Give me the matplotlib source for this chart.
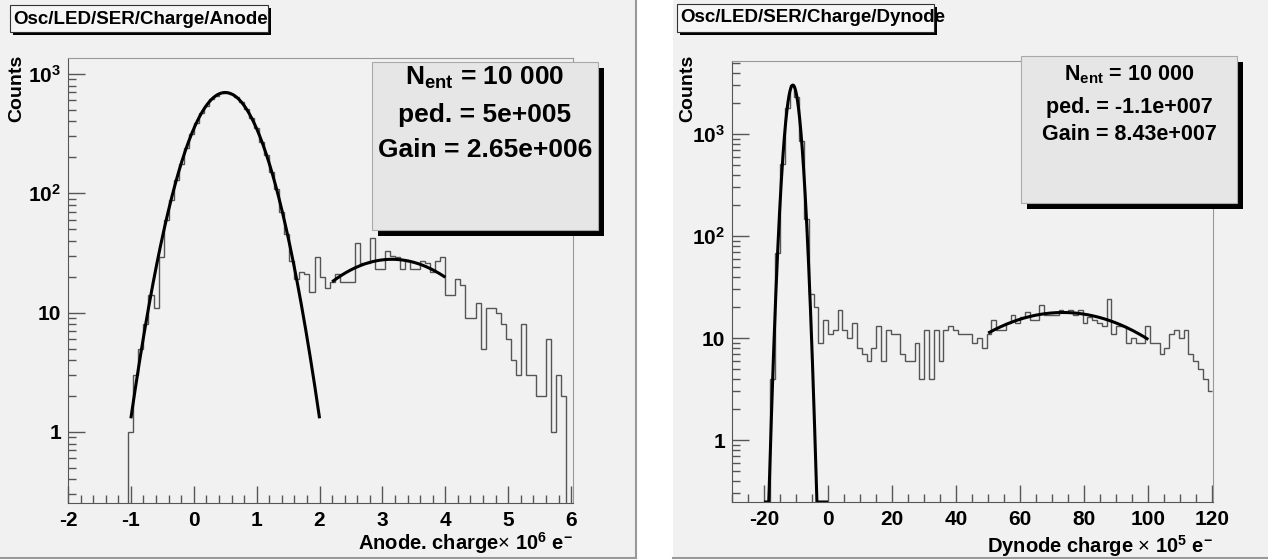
import matplotlib
matplotlib.use('Agg')
import matplotlib.pyplot as plt
import numpy as np
from matplotlib.patches import Rectangle
from matplotlib.ticker import FixedLocator, FixedFormatter, MultipleLocator

plt.rcParams['font.family'] = ['Liberation Sans', 'DejaVu Sans']
plt.rcParams['mathtext.fontset'] = 'custom'
plt.rcParams['mathtext.rm'] = 'Liberation Sans'
plt.rcParams['mathtext.bf'] = 'Liberation Sans:bold'
plt.rcParams['mathtext.it'] = 'Liberation Sans:italic'
plt.rcParams['axes.unicode_minus'] = False

W, H = 1268, 560

# ---------------- data ----------------
# Anode histogram: 100 bins from -2 to 6 (x 10^6 e-)
anode_lo, anode_hi, anode_nbins = -2.0, 6.0, 100
anode_counts = [
    0, 0, 0, 0, 0, 0, 0, 0, 0, 0, 0, 0,
    1, 3, 5, 8, 14, 11, 29, 60, 88, 130,
    176, 240, 312, 385, 470, 543, 612, 660, 695, 698,
    683, 637, 580, 505, 430, 350, 271, 210, 150, 108,
    70, 46, 27, 19, 22, 21, 15, 29, 20, 16,
    18, 21, 18, 18, 18, 38, 26, 26, 42, 23,
    23, 33, 30, 29, 23, 27, 23, 23, 27, 26,
    22, 27, 29, 14, 14, 19, 17, 9, 9, 12,
    5, 11, 11, 10, 8, 6, 4, 3, 8, 3,
    3, 2, 2, 6, 1, 3, 2, 0,
]
# fit parameters (amplitude, mean, sigma, range)
anode_ped_fit = (700, 0.5, 0.423, -1.0, 2.0)
anode_ser_fit = (28, 3.15, 1.02, 2.2, 4.0)
anode_stats = ['$\\mathbf{N_{ent}}$ = 10 000', 'ped. = 5e+005', 'Gain = 2.65e+006']

# Dynode histogram: 100 bins from -30 to 120 (x 10^5 e-)
dyn_lo, dyn_hi, dyn_nbins = -30.0, 120.0, 100
dyn_counts = [
    0, 0, 0, 0, 0, 0, 0, 0, 4, 68,
    510, 1800, 3000, 2320, 850, 146, 27, 20, 9, 15,
    11, 12, 19, 12, 10, 14, 8, 7, 6, 8,
    13, 6, 12, 11, 11, 7, 6, 6, 9, 4,
    12, 4, 12, 6, 12, 13, 12, 11, 11, 11,
    9, 10, 8, 11, 15, 12, 12, 14, 17, 14,
    16, 18, 15, 15, 21, 17, 17, 17, 19, 18,
    19, 17, 19, 14, 16, 15, 14, 13, 24, 11,
    13, 13, 9, 10, 9, 9, 13, 9, 9, 7,
    8, 11, 12, 10, 12, 7, 6, 5, 4, 3,
]
dyn_ped_fit = (3020, -11.0, 1.73, -20.0, 0.0)
dyn_ser_fit = (17.8, 73.3, 24.2, 50.0, 100.0)
dyn_stats = ['$\\mathbf{N_{ent}}$ = 10 000', 'ped. = -1.1e+007', 'Gain = 8.43e+007']

fig = plt.figure(figsize=(W / 100, H / 100), dpi=100)
fig.patch.set_facecolor('white')


def px_rect(x0, y0, x1, y1, **kw):
    # rectangle given in picture pixels (y down)
    r = Rectangle((x0 / W, 1 - y1 / H), (x1 - x0) / W, (y1 - y0) / H,
                  transform=fig.transFigure, **kw)
    fig.add_artist(r)
    return r


def shadow_box(x0, y0, x1, y1, off, face, edge):
    px_rect(x0 + off, y0 + off, x1 + off, y1 + off, facecolor='black', edgecolor='none', zorder=5)
    px_rect(x0, y0, x1, y1, facecolor=face, edgecolor=edge, lw=0.8, zorder=6)


def gauss_curve(p, n=300):
    a, m, s, lo, hi = p
    xx = np.linspace(lo, hi, n)
    return xx, a * np.exp(-0.5 * ((xx - m) / s) ** 2)


# pads
px_rect(0, 0, 636, 558, facecolor='#f1f1f1', edgecolor='none', zorder=0)
px_rect(673, 0, 1268, 558, facecolor='#f1f1f1', edgecolor='none', zorder=0)
fig.add_artist(plt.Line2D([636 / W, 636 / W], [1 - 558 / H, 1], transform=fig.transFigure, color='#999999', lw=1.5))
fig.add_artist(plt.Line2D([0, 636 / W], [1 - 558 / H, 1 - 558 / H], transform=fig.transFigure, color='#999999', lw=1.5))
fig.add_artist(plt.Line2D([673 / W, 1], [1 - 558 / H, 1 - 558 / H], transform=fig.transFigure, color='#999999', lw=1.5))


def setup_axes(rect_px, xlim, ylim, xmajor, xminor, xlabel, xlabel_px, ylabel_x):
    x0, y0, x1, y1 = rect_px
    ax = fig.add_axes([x0 / W, 1 - y1 / H, (x1 - x0) / W, (y1 - y0) / H])
    ax.set_facecolor('none')
    ax.set_yscale('log')
    ax.set_xlim(*xlim)
    ax.set_ylim(*ylim)
    ax.xaxis.set_major_locator(MultipleLocator(xmajor))
    ax.xaxis.set_minor_locator(MultipleLocator(xminor))
    ax.yaxis.set_major_locator(FixedLocator([1, 10, 100, 1000]))
    ax.yaxis.set_major_formatter(FixedFormatter(['1', '10', '$\\mathbf{10^{2}}$', '$\\mathbf{10^{3}}$']))
    minors = [m * 10.0 ** e for e in range(-1, 4) for m in range(2, 10)]
    ax.yaxis.set_minor_locator(FixedLocator(minors))
    ax.yaxis.set_minor_formatter(FixedFormatter([''] * len(minors)))
    ax.tick_params(which='both', direction='in', color='#555555', width=1,
                   top=False, right=False, labelsize=15)
    ax.tick_params(which='major', length=12)
    ax.tick_params(which='minor', length=6)
    ax.tick_params(axis='x', pad=6)
    ax.tick_params(axis='y', pad=5)
    for lab in ax.get_xticklabels() + ax.get_yticklabels():
        lab.set_fontweight('bold')
    for side in ['left', 'bottom']:
        ax.spines[side].set_color('#555555')
    for side in ['top', 'right']:
        ax.spines[side].set_color('#999999')
    fig.text(xlabel_px[0] / W, 1 - xlabel_px[1] / H, xlabel, ha='right', va='center',
             fontsize=14.5, fontweight='bold')
    fig.text(ylabel_x / W, 1 - 55 / H, 'Counts', rotation=90, ha='center', va='top',
             fontsize=14, fontweight='bold')
    return ax


# ---------------- left: anode ----------------
ax1 = setup_axes((68, 57.5, 573, 503), (-2, 6.03), (0.254, 1375), 1, 0.2,
                 'Anode. charge$\\times$ 10$^{\\mathbf{6}}$ e$^{\\mathbf{-}}$', (573, 543), 17)
edges1 = np.linspace(anode_lo, anode_hi, anode_nbins + 1)
v1 = np.array(anode_counts, dtype=float)
ax1.stairs(np.where(v1 > 0, v1, 1e-3), edges1, color='#555555', lw=1.0, baseline=None)
for p in (anode_ped_fit, anode_ser_fit):
    fx, fy = gauss_curve(p)
    ax1.plot(fx, fy, color='black', lw=2.2, solid_capstyle='butt')

# ---------------- right: dynode ----------------
ax2 = setup_axes((732, 61, 1213, 502), (-30, 120.2), (0.247, 5200), 20, 5,
                 'Dynode charge $\\times$ 10$^{\\mathbf{5}}$ e$^{\\mathbf{-}}$', (1213, 546), 688)
edges2 = np.linspace(dyn_lo, dyn_hi, dyn_nbins + 1)
v2 = np.array(dyn_counts, dtype=float)
ax2.stairs(np.where(v2 > 0, v2, 1e-3), edges2, color='#555555', lw=1.0, baseline=None)
for p in (dyn_ped_fit, dyn_ser_fit):
    fx, fy = gauss_curve(p)
    ax2.plot(fx, np.maximum(fy, 0.247), color='black', lw=2.2, solid_capstyle='butt')

# ---------------- title boxes ----------------
shadow_box(10, 5, 268, 32, 3, '#f6f6f6', '#333333')
fig.text(13 / W, 1 - 19 / H, 'Osc/LED/SER/Charge/Anode', ha='left', va='center',
         fontsize=13.5, fontweight='bold', zorder=7)
shadow_box(677, 4, 934, 32, 3, '#f6f6f6', '#333333')
fig.text(680 / W, 1 - 18 / H, 'Osc/LED/SER/Charge/Dynode', ha='left', va='center',
         fontsize=13.5, fontweight='bold', zorder=7)

# ---------------- stats boxes ----------------
shadow_box(372, 62, 598, 230, 6, '#e6e6e6', '#aaaaaa')
for txt, yy in zip(anode_stats, [78, 115, 150]):
    fig.text(485 / W, 1 - yy / H, txt, ha='center', va='center', fontsize=19,
             fontweight='bold', zorder=7)
shadow_box(1021, 56, 1237, 203, 6, '#e6e6e6', '#aaaaaa')
for txt, yy in zip(dyn_stats, [75, 108, 134]):
    fig.text(1129 / W, 1 - yy / H, txt, ha='center', va='center', fontsize=15.5,
             fontweight='bold', zorder=7)

fig.savefig('out.png', dpi=100, facecolor=fig.get_facecolor())
